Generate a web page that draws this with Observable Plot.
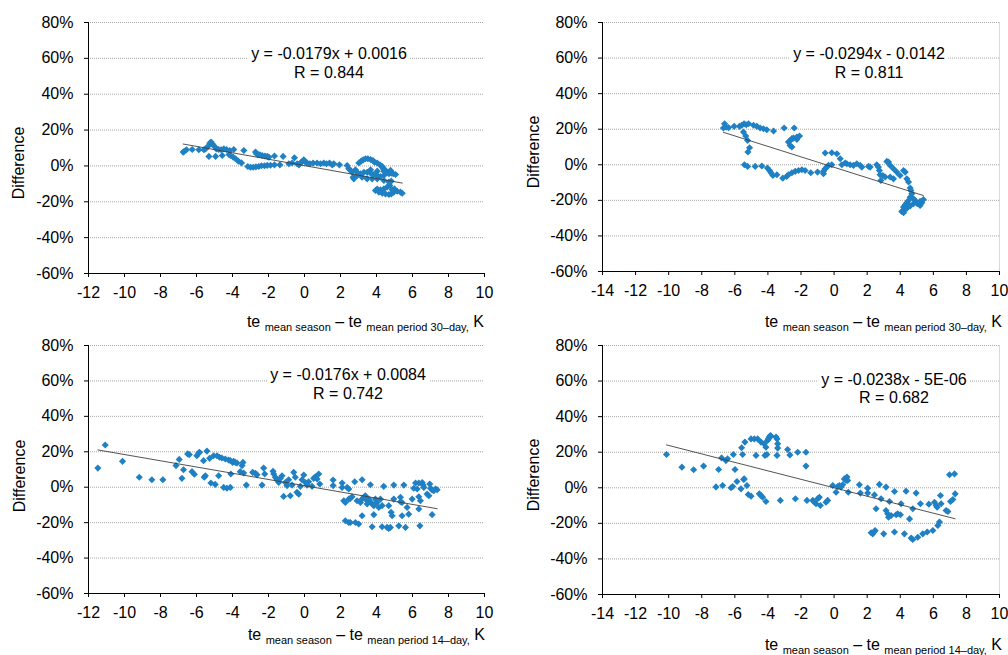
<!DOCTYPE html>
<html><head><meta charset="utf-8">
<script src="https://cdn.jsdelivr.net/npm/d3@7"></script>
<script src="https://cdn.jsdelivr.net/npm/@observablehq/plot@0.6"></script>
<style>
body{margin:0;background:#fff;}
#root{position:relative;width:1008px;height:655px;overflow:hidden;font-family:"Liberation Sans",Arial,sans-serif;color:#000;background:#fff;}
.panel{position:absolute;}
.eq{position:absolute;font-size:16px;line-height:16px;background:#fff;transform:translateX(-50%);white-space:nowrap;padding:1px 3px;}
.ylab{position:absolute;font-size:16px;line-height:16px;transform:translate(-50%,-50%) rotate(-90deg);white-space:nowrap;}
.xlab{position:absolute;font-size:16px;line-height:16px;white-space:nowrap;}
.xlab .s{font-size:11px;position:relative;top:4px;}
</style></head>
<body><div id="root"></div>
<script>
// ---- data (x in K, y in %) ----
const p1x = [-6.74,-6.67,-6.56,-6.24,-5.87,-5.59,-5.50,-5.37,-5.26,-5.19,-5.09,-5.00,-4.89,-4.76,-4.63,-4.48,-4.33,-4.15,-3.93,-3.37,
-5.31,-4.94,-4.57,-4.20,-4.11,-3.96,-3.83,-3.68,-3.50,
-3.15,-3.00,-2.85,-2.70,-2.54,-2.39,-2.22,-2.07,-1.89,-1.67,-1.37,
-2.72,-2.67,-2.59,-2.48,-2.35,-2.20,-2.07,-1.98,-1.67,-1.19,
-0.87,-0.69,-0.56,-0.41,-0.31,-0.22,-0.13,-0.04,0.06,0.15,0.30,0.48,0.70,0.89,1.07,1.22,1.39,1.54,1.63,1.94,
2.37,2.46,2.56,2.65,2.70,2.74,2.83,2.93,3.02,3.15,3.26,3.39,3.52,3.67,3.80,3.89,4.04,4.19,4.32,4.37,4.50,4.59,4.69,4.78,4.82,4.93,5.06,4.41,4.22,4.04,3.85,3.67,3.48,3.30,3.11,2.93,3.20,3.48,3.76,4.04,4.41,4.69,4.82,4.74,4.59,4.41,4.22,4.04,3.94,4.13,4.32,4.50,4.69,4.82,4.96,5.15,5.33,5.43,5.00,4.87,4.41,3.67,4.04];
const p1y = [7.7,8.2,9.0,9.2,9.0,9.0,9.5,10.8,12.7,13.3,12.0,10.8,9.5,9.2,9.0,9.5,9.2,8.6,9.2,8.6,
5.3,5.3,5.8,6.4,5.8,4.9,4.0,2.7,1.7,
-0.3,-0.7,-0.7,-0.5,-0.3,0.1,0.1,0.3,0.4,0.6,0.6,
7.7,6.8,6.4,6.2,5.8,5.5,5.3,4.9,5.5,5.3,
1.2,1.6,4.5,1.2,0.6,1.7,2.5,3.4,2.1,1.6,1.2,1.6,1.6,1.2,1.6,1.2,1.6,0.6,1.2,0.6,
0.25,-1.6,-2.5,-3.5,-6.3,-7.2,-2.2,-3.5,1.6,2.7,3.4,4.0,4.0,3.6,3.0,2.1,1.6,0.6,-0.3,-1.6,-2.5,-3.5,-4.4,-2.5,-4.0,-4.4,-4.8,-5.3,-5.9,-5.3,-4.8,-4.0,-3.5,-3.5,-4.4,-5.3,-6.3,-7.2,-7.2,-7.2,-8.1,-9.0,-8.5,-10.9,-11.8,-12.8,-13.3,-12.9,-13.7,-14.6,-15.2,-15.6,-15.9,-15.6,-14.6,-14.1,-14.6,-15.2,-12.8,-13.3,-2.9,-2.2,-2.9];

const p2x = [-6.69,-6.62,-6.52,-6.38,-6.04,-5.72,-5.58,-5.44,-5.31,-5.17,-4.87,-4.67,-4.47,-4.27,-4.07,-3.66,-3.02,-2.41,
-5.48,-5.34,-5.23,-5.11,-5.21,
-2.76,-2.66,-2.55,-2.66,-2.55,-2.45,-2.25,-2.09,-2.25,
-5.42,-5.23,-4.77,-4.37,-4.03,-3.90,-3.82,-3.70,-3.46,-3.10,-2.86,-2.76,-2.55,-2.35,-2.15,-1.95,-1.75,-1.41,-1.00,-0.64,-0.54,-0.64,-0.44,-0.34,-0.14,
-0.54,-0.14,0.17,0.37,0.47,0.67,0.77,0.97,1.17,1.37,1.58,1.68,2.08,2.18,
2.58,2.68,2.74,2.78,2.83,2.95,3.09,3.39,3.59,3.19,3.29,3.39,3.59,3.79,3.99,4.20,4.30,4.40,4.50,4.60,4.64,4.70,4.60,4.50,4.40,4.30,4.20,4.09,4.20,4.30,4.40,4.50,4.60,4.80,5.00,5.20,5.40,5.30,5.20,5.04,4.90,4.80];
const p2y = [20.7,23.1,21.2,20.9,21.6,21.6,22.2,23.1,22.5,23.1,22.2,21.6,20.7,20.3,19.7,19.0,20.7,20.7,
18.4,16.2,13.7,9.6,7.2,
12.8,10.9,10.0,13.7,14.7,15.0,14.3,16.2,15.6,
0.0,-0.9,-0.9,-0.7,-1.8,-3.2,-4.5,-6.0,-5.6,-7.5,-6.5,-5.6,-4.5,-3.7,-3.2,-2.8,-3.2,-4.5,-4.1,-3.7,-2.2,-5.0,-1.3,-0.35,0.0,
6.6,6.8,6.2,3.4,0.0,1.0,0.6,0.0,-0.35,0.6,-0.35,-1.3,-0.9,-1.3,
0.0,-1.3,-3.2,-5.6,-8.8,-6.0,-6.9,-6.9,-7.9,1.9,1.5,-0.35,-2.2,-4.1,-6.0,-3.2,-4.1,-7.9,-9.7,-13.1,-14.4,-16.3,-18.2,-20.1,-21.4,-22.5,-23.8,-26.2,-27.0,-25.1,-24.4,-22.9,-23.2,-21.9,-21.4,-20.6,-19.5,-21.4,-22.9,-21.9,-20.1,-19.1];

const p3x = [-11.48,-11.07,-10.11,-9.18,-8.48,-7.87,-7.14,-6.96,-6.81,-6.72,
-6.49,-6.40,-6.25,-6.12,-5.98,-5.88,-5.83,-5.61,-5.57,-5.51,
-5.42,-5.27,-5.20,-5.05,-4.96,-4.86,-4.77,-4.72,-4.59,-4.49,
-4.40,-4.31,-4.22,-4.12,-4.12,-4.09,-3.99,-3.94,-3.84,-3.75,
-3.57,-3.47,-3.42,-3.38,-3.23,-2.88,-2.73,-2.64,-2.36,-2.27,
-2.21,-1.75,-1.71,-1.62,-1.53,-1.43,-1.34,-1.25,-1.16,-1.06,
-0.97,-0.88,-0.79,-0.69,-0.60,-0.51,-0.42,-0.32,-0.23,-0.14,
-0.04,0.05,0.14,0.23,0.42,0.51,0.60,0.70,0.79,0.85,
1.59,1.59,2.09,2.09,2.18,2.27,2.37,2.46,2.46,2.55,
2.64,2.27,2.46,2.55,2.83,3.01,2.79,3.20,3.20,2.92,
3.11,3.20,3.29,3.38,3.48,3.48,3.57,3.66,3.76,3.85,
3.94,4.03,4.13,4.22,4.31,3.66,3.76,3.85,4.31,4.40,
4.59,4.68,4.77,4.81,4.87,4.68,4.96,4.96,5.24,5.33,
5.33,5.42,5.52,5.42,5.61,5.70,5.79,5.98,6.07,6.17,
6.26,6.35,6.35,6.41,6.44,6.54,6.59,6.63,6.81,6.91,
6.96,7.00,7.09,7.18,7.28,7.37,7.09,6.35];
const p3y = [10.8,23.8,14.6,5.6,4.2,4.2,12.2,15.7,5.0,9.9,
18.8,18.4,8.8,7.3,17.8,19.3,19.7,15.0,5.6,6.5,
20.4,16.3,2.4,17.8,1.6,17.8,6.5,16.9,16.5,-0.1,
15.9,-0.6,15.4,15.0,-0.1,7.5,14.0,14.6,14.0,13.7,
8.8,12.2,14.0,8.0,1.2,8.4,7.8,7.1,1.2,10.8,
7.5,9.0,7.5,5.6,4.2,2.7,5.0,6.5,-5.2,2.7,
0.9,4.2,-4.8,1.2,8.4,5.6,-2.9,-3.9,0.5,4.2,
6.9,2.7,1.2,3.1,0.5,5.0,5.9,4.6,7.5,1.8,
4.1,0.9,2.4,-0.1,-7.6,-8.6,-0.1,-1.0,-6.7,-6.3,
-5.4,-18.9,-19.9,-19.9,-19.9,-20.8,3.1,4.2,-16.1,-7.6,
-8.6,-6.7,-5.7,-4.8,-7.6,-9.5,-6.7,-8.2,-9.5,-10.4,
-6.7,-8.6,-11.4,-6.7,-10.4,1.4,-22.3,-15.5,-22.3,0.5,
-22.7,-23.3,-22.7,-14.2,-16.1,-10.4,-6.7,1.2,-21.8,-5.7,
-8.2,-8.6,1.2,-16.1,-22.7,-11.4,-15.2,-6.7,-0.6,2.4,
-1.0,2.4,-5.4,-21.8,-7.6,2.7,1.2,-0.1,-3.9,-4.8,
1.8,-0.6,-1.6,-2.0,-1.0,-1.4,-15.5,-12.3];

const p4x = [-10.13,-9.20,-8.49,-7.89,-7.14,-6.98,-6.74,-6.80,-6.54,-6.44,
-6.23,-6.13,-6.09,-5.99,-5.87,-5.63,-5.59,-5.53,-5.47,-5.43,
-5.39,-5.27,-5.19,-5.02,-5.02,-4.82,-4.72,-4.62,-4.52,-4.42,
-4.42,-4.32,-4.22,-4.18,-4.12,-4.12,-4.06,-4.02,-3.98,-3.92,
-3.85,-3.81,-3.51,-3.45,-3.45,-3.41,-3.41,-3.25,-2.81,-2.67,
-2.34,-2.20,-1.70,-1.70,-1.64,-1.29,-1.19,-1.09,-0.99,-0.89,
-0.83,-0.49,-0.39,-0.08,0.12,0.22,0.32,0.42,0.52,0.62,
0.72,0.78,0.82,0.86,1.53,1.59,2.03,2.03,2.24,2.34,
2.44,2.48,2.44,2.54,2.74,2.84,3.00,3.14,3.14,3.24,
3.29,3.35,3.45,3.65,3.65,3.75,3.85,4.01,4.05,4.25,
4.35,4.56,4.66,4.76,4.76,4.96,5.06,5.22,5.36,5.63,
5.73,5.97,6.07,6.17,6.23,6.27,6.37,6.43,6.47,6.77,
6.88,6.98,7.04,7.18,7.28,7.32];
const p4y = [18.7,11.6,10.1,12.2,0.5,10.3,1.3,16.8,15.3,16.3,
0.0,0.7,18.7,10.3,3.5,-0.6,22.5,18.7,4.7,5.0,
25.7,1.3,-3.8,-4.7,27.5,27.5,18.2,27.5,-3.4,-4.3,
25.7,-5.3,24.7,18.2,-7.7,22.8,18.7,26.6,27.5,28.5,
29.4,29.0,28.5,27.5,18.2,24.7,22.3,-7.1,21.5,18.5,
-6.2,20.0,20.0,12.2,-7.1,-7.1,-8.1,-9.0,-6.2,-5.3,
-10.0,-8.1,-7.1,1.3,-2.5,0.7,1.3,0.4,1.7,5.0,
4.1,6.0,4.1,-2.5,1.7,-3.0,-0.2,-3.0,-25.3,-25.9,
-24.6,-24.0,-4.0,-11.8,1.9,-6.2,-25.9,0.4,-12.8,-14.6,
-16.5,-7.7,-15.6,-2.1,-24.9,-15.2,-14.6,-15.2,-9.0,-25.9,
-1.9,-17.5,-28.3,-29.1,-11.8,-3.0,-27.8,-9.0,-25.9,-24.9,
-9.2,-24.0,-8.1,-10.0,-10.9,-21.2,-19.3,-4.3,-9.0,-12.8,
-13.3,7.3,-7.7,-6.6,7.8,-3.4];

// regression equations shown on the chart
const slopes = [-0.0179, -0.0294, -0.0176, -0.0238];
const intercepts = [0.0016, -0.0142, 0.0084, -0.000005];
const eqTexts = ["y = -0.0179x + 0.0016", "y = -0.0294x - 0.0142", "y = -0.0176x + 0.0084", "y = -0.0238x - 5E-06"];
const rTexts = ["R = 0.844", "R = 0.811", "R = 0.742", "R = 0.682"];
const periods = ["30\u2013day,", "30\u2013day,", "14\u2013day,", "14\u2013day,"];
const xMins = [-12, -14, -12, -14];
const xMax = 10;
const yTicks = [-60, -40, -20, 0, 20, 40, 60, 80];
const yLabel = "Difference";

// ---- layout ----
const panels = [
  {xs: p1x, ys: p1y, left: 0,   top: 0,   mt: 22, mb: 57, ml: 88, mr: 20, border: false,
   eq: [329, 54, 73], ylab: [18.5, 163], xlab: [484, 314]},
  {xs: p2x, ys: p2y, left: 504, top: 0,   mt: 22, mb: 59, ml: 98, mr: 9, border: true,
   eq: [869, 54, 73], ylab: [533.5, 152], xlab: [1002, 314]},
  {xs: p3x, ys: p3y, left: 0,   top: 325, mt: 20, mb: 62, ml: 88, mr: 20, border: false,
   eq: [348, 375, 394], ylab: [19.5, 476], xlab: [485, 627]},
  {xs: p4x, ys: p4y, left: 504, top: 325, mt: 20, mb: 61, ml: 98, mr: 9, border: true,
   eq: [894, 380, 398], ylab: [533.5, 475], xlab: [1002, 637]}
];

const root = document.getElementById("root");
const FONT = "'Liberation Sans', Arial, sans-serif";

panels.forEach((p, i) => {
  const data = p.xs.map((x, j) => ({x, y: p.ys[j]}));
  const ext = d3.extent(p.xs);
  const trend = ext.map(x => ({x, y: (slopes[i] * x + intercepts[i]) * 100}));
  const xMin = xMins[i];
  const xTicks = d3.range(xMin, xMax + 1, 2);
  const marks = [
    Plot.gridY(yTicks, {stroke: "#a6a6a6", strokeOpacity: 1, strokeDasharray: "1,1"}),
    Plot.ruleX([xMin], {stroke: "#000"}),
    Plot.ruleY([-60], {stroke: "#000"}),
    Plot.dot(data, {x: "x", y: "y", symbol: "diamond2", r: 3.2, fill: "#1f80c4", stroke: "none"}),
    Plot.line(trend, {x: "x", y: "y", stroke: "#404040", strokeWidth: 0.9}),
    Plot.axisX(xTicks, {tickSize: 4, tickPadding: 9, tickFormat: d => String(d), label: null}),
    Plot.axisY(yTicks, {tickSize: 4, tickPadding: 11, tickFormat: d => d + "%", label: null})
  ];
  if (p.border) marks.splice(1, 0, Plot.ruleX([xMax], {stroke: "#d9d9d9"}));
  const chart = Plot.plot({
    width: 504, height: 330,
    marginTop: p.mt, marginBottom: p.mb, marginLeft: p.ml, marginRight: p.mr,
    style: {fontFamily: FONT, fontSize: "16px", color: "#000", background: "transparent", overflow: "visible"},
    x: {domain: [xMin, xMax]},
    y: {domain: [-60, 80]},
    marks
  });
  const wrap = document.createElement("div");
  wrap.className = "panel";
  wrap.style.left = p.left + "px";
  wrap.style.top = p.top + "px";
  wrap.appendChild(chart);
  root.appendChild(wrap);

  // equation labels
  const e1 = document.createElement("div");
  e1.className = "eq"; e1.textContent = eqTexts[i];
  e1.style.left = p.eq[0] + "px"; e1.style.top = (p.eq[1] - 9) + "px";
  root.appendChild(e1);
  const e2 = document.createElement("div");
  e2.className = "eq"; e2.textContent = rTexts[i];
  e2.style.left = p.eq[0] + "px"; e2.style.top = (p.eq[2] - 9) + "px";
  root.appendChild(e2);

  // y label
  const yl = document.createElement("div");
  yl.className = "ylab"; yl.textContent = yLabel;
  yl.style.left = p.ylab[0] + "px"; yl.style.top = p.ylab[1] + "px";
  root.appendChild(yl);

  // x label with subscripts
  const xl = document.createElement("div");
  xl.className = "xlab";
  xl.innerHTML = 'te <span class="s">mean season</span> \u2013 te <span class="s">mean period ' + periods[i] + '</span> K';
  xl.style.right = (1008 - p.xlab[0]) + "px";
  xl.style.top = p.xlab[1] + "px";
  root.appendChild(xl);
});
</script>
</body></html>
